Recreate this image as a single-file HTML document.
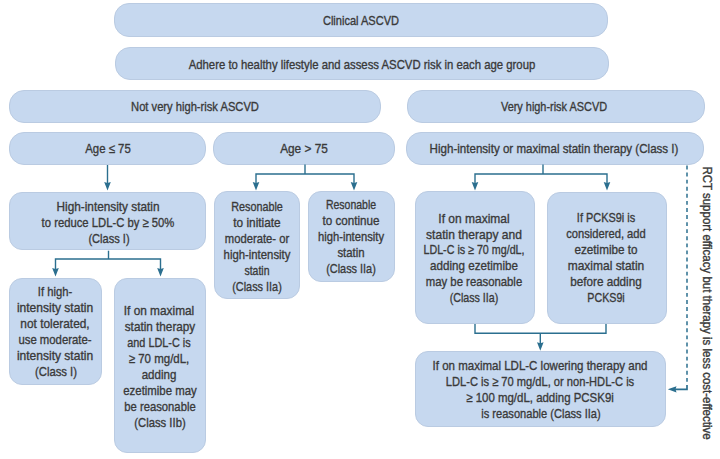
<!DOCTYPE html>
<html><head><meta charset="utf-8"><style>
html,body{margin:0;padding:0;background:#fff;}
body{width:720px;height:459px;position:relative;overflow:hidden;font-family:"Liberation Sans",sans-serif;}
.b{position:absolute;background:rgb(198,216,239);box-sizing:border-box;border:1px solid rgb(186,203,226);}
.t{position:absolute;width:800px;text-align:center;font-size:13px;line-height:16px;height:16px;color:#3a3a3a;transform-origin:50% 50%;white-space:nowrap;-webkit-text-stroke:0.35px #3a3a3a;}
svg{position:absolute;left:0;top:0;}
</style></head><body>

<div class="b" style="left:113.8px;top:3.3px;width:494.0px;height:34.2px;border-radius:15.0px"></div>
<div class="b" style="left:115.0px;top:47.0px;width:494.0px;height:33.0px;border-radius:15.0px"></div>
<div class="b" style="left:9.3px;top:89.5px;width:371.3px;height:33.1px;border-radius:15.0px"></div>
<div class="b" style="left:406.6px;top:89.5px;width:298.0px;height:33.1px;border-radius:15.0px"></div>
<div class="b" style="left:9.3px;top:131.5px;width:197.2px;height:33.7px;border-radius:15.0px"></div>
<div class="b" style="left:213.0px;top:131.5px;width:182.0px;height:33.7px;border-radius:15.0px"></div>
<div class="b" style="left:406.1px;top:132.0px;width:297.7px;height:32.7px;border-radius:15.0px"></div>
<div class="b" style="left:9.3px;top:191.8px;width:197.1px;height:58.2px;border-radius:13.0px"></div>
<div class="b" style="left:214.2px;top:191.3px;width:86.2px;height:107.7px;border-radius:13.0px"></div>
<div class="b" style="left:308.0px;top:191.3px;width:86.8px;height:90.7px;border-radius:13.0px"></div>
<div class="b" style="left:9.2px;top:277.7px;width:93.2px;height:107.3px;border-radius:13.0px"></div>
<div class="b" style="left:114.0px;top:277.7px;width:92.2px;height:175.3px;border-radius:13.0px"></div>
<div class="b" style="left:414.7px;top:191.3px;width:120.1px;height:132.9px;border-radius:13.0px"></div>
<div class="b" style="left:547.4px;top:191.5px;width:119.2px;height:132.7px;border-radius:13.0px"></div>
<div class="b" style="left:414.7px;top:351.3px;width:251.6px;height:75.5px;border-radius:13.0px"></div>
<div class="t" style="left:-39.3px;top:13.40px;transform:scaleX(0.850)">Clinical ASCVD</div>
<div class="t" style="left:-38.3px;top:57.10px;transform:scaleX(0.872)">Adhere to healthy lifestyle and assess ASCVD risk in each age group</div>
<div class="t" style="left:-204.8px;top:99.10px;transform:scaleX(0.859)">Not very high-risk ASCVD</div>
<div class="t" style="left:154.1px;top:99.10px;transform:scaleX(0.839)">Very high-risk ASCVD</div>
<div class="t" style="left:-292.1px;top:141.10px;transform:scaleX(0.876)">Age ≤ 75</div>
<div class="t" style="left:-95.7px;top:141.30px;transform:scaleX(0.911)">Age &gt; 75</div>
<div class="t" style="left:154.2px;top:141.30px;transform:scaleX(0.890)">High-intensity or maximal statin therapy (Class I)</div>
<div class="t" style="left:-292.4px;top:199.00px;transform:scaleX(0.908)">High-intensity statin</div>
<div class="t" style="left:-292.1px;top:215.00px;transform:scaleX(0.867)">to reduce LDL-C by ≥ 50%</div>
<div class="t" style="left:-291.4px;top:231.00px;transform:scaleX(0.851)">(Class I)</div>
<div class="t" style="left:-142.8px;top:198.50px;transform:scaleX(0.830)">Resonable</div>
<div class="t" style="left:-143.2px;top:214.50px;transform:scaleX(0.910)">to initiate</div>
<div class="t" style="left:-142.8px;top:230.50px;transform:scaleX(0.864)">moderate- or</div>
<div class="t" style="left:-143.1px;top:246.50px;transform:scaleX(0.872)">high-intensity</div>
<div class="t" style="left:-143.5px;top:262.50px;transform:scaleX(0.805)">statin</div>
<div class="t" style="left:-143.1px;top:278.50px;transform:scaleX(0.838)">(Class IIa)</div>
<div class="t" style="left:-49.2px;top:197.20px;transform:scaleX(0.807)">Resonable</div>
<div class="t" style="left:-48.9px;top:213.10px;transform:scaleX(0.897)">to continue</div>
<div class="t" style="left:-49.1px;top:229.00px;transform:scaleX(0.862)">high-intensity</div>
<div class="t" style="left:-49.0px;top:244.90px;transform:scaleX(0.875)">statin</div>
<div class="t" style="left:-49.1px;top:260.80px;transform:scaleX(0.838)">(Class IIa)</div>
<div class="t" style="left:-345.0px;top:284.40px;transform:scaleX(0.862)">If high-</div>
<div class="t" style="left:-344.6px;top:300.40px;transform:scaleX(0.925)">intensity statin</div>
<div class="t" style="left:-344.8px;top:316.40px;transform:scaleX(0.913)">not tolerated,</div>
<div class="t" style="left:-344.8px;top:332.40px;transform:scaleX(0.872)">use moderate-</div>
<div class="t" style="left:-344.6px;top:348.40px;transform:scaleX(0.925)">intensity statin</div>
<div class="t" style="left:-344.4px;top:364.40px;transform:scaleX(0.869)">(Class I)</div>
<div class="t" style="left:-240.6px;top:302.50px;transform:scaleX(0.912)">If on maximal</div>
<div class="t" style="left:-240.5px;top:318.50px;transform:scaleX(0.903)">statin therapy</div>
<div class="t" style="left:-240.6px;top:334.50px;transform:scaleX(0.836)">and LDL-C is</div>
<div class="t" style="left:-240.8px;top:350.50px;transform:scaleX(0.884)">≥ 70 mg/dL,</div>
<div class="t" style="left:-240.6px;top:366.50px;transform:scaleX(0.888)">adding</div>
<div class="t" style="left:-240.1px;top:382.50px;transform:scaleX(0.877)">ezetimibe may</div>
<div class="t" style="left:-240.1px;top:398.50px;transform:scaleX(0.865)">be reasonable</div>
<div class="t" style="left:-240.3px;top:414.50px;transform:scaleX(0.866)">(Class IIb)</div>
<div class="t" style="left:73.9px;top:210.60px;transform:scaleX(0.923)">If on maximal</div>
<div class="t" style="left:73.9px;top:226.50px;transform:scaleX(0.927)">statin therapy and</div>
<div class="t" style="left:74.1px;top:242.40px;transform:scaleX(0.823)">LDL-C is ≥ 70 mg/dL,</div>
<div class="t" style="left:73.9px;top:258.30px;transform:scaleX(0.893)">adding ezetimibe</div>
<div class="t" style="left:74.0px;top:274.20px;transform:scaleX(0.872)">may be reasonable</div>
<div class="t" style="left:73.6px;top:290.10px;transform:scaleX(0.820)">(Class IIa)</div>
<div class="t" style="left:206.4px;top:210.20px;transform:scaleX(0.840)">If PCKS9i is</div>
<div class="t" style="left:206.2px;top:226.10px;transform:scaleX(0.859)">considered, add</div>
<div class="t" style="left:206.4px;top:242.00px;transform:scaleX(0.899)">ezetimibe to</div>
<div class="t" style="left:206.2px;top:257.90px;transform:scaleX(0.921)">maximal statin</div>
<div class="t" style="left:206.4px;top:273.80px;transform:scaleX(0.898)">before adding</div>
<div class="t" style="left:206.4px;top:289.70px;transform:scaleX(0.823)">PCKS9i</div>
<div class="t" style="left:139.7px;top:357.90px;transform:scaleX(0.885)">If on maximal LDL-C lowering therapy and</div>
<div class="t" style="left:139.6px;top:373.90px;transform:scaleX(0.855)">LDL-C is ≥ 70 mg/dL, or non-HDL-C is</div>
<div class="t" style="left:140.0px;top:389.90px;transform:scaleX(0.881)">≥ 100 mg/dL, adding PCSK9i</div>
<div class="t" style="left:140.6px;top:405.90px;transform:scaleX(0.852)">is reasonable (Class IIa)</div>
<svg width="720" height="459" viewBox="0 0 720 459">
<polyline points="107.5,165.0 107.5,185.0" fill="none" stroke="#2b6f8f" stroke-width="1.4"/>
<path d="M104.2 182.0 L107.5 190.5 L110.8 182.0 L107.5 183.0 Z" fill="#2b6f8f"/>
<polyline points="305.0,164.5 305.0,174.0" fill="none" stroke="#2b6f8f" stroke-width="1.4"/>
<polyline points="256.0,184.0 256.0,174.0 354.0,174.0 354.0,184.0" fill="none" stroke="#2b6f8f" stroke-width="1.4"/>
<path d="M252.7 182.0 L256.0 190.5 L259.3 182.0 L256.0 183.0 Z" fill="#2b6f8f"/>
<path d="M350.7 182.0 L354.0 190.5 L357.3 182.0 L354.0 183.0 Z" fill="#2b6f8f"/>
<polyline points="108.5,250.7 108.5,259.0" fill="none" stroke="#2b6f8f" stroke-width="1.4"/>
<polyline points="55.5,270.0 55.5,259.0 160.5,259.0 160.5,270.0" fill="none" stroke="#2b6f8f" stroke-width="1.4"/>
<path d="M52.2 268.0 L55.5 276.5 L58.8 268.0 L55.5 269.0 Z" fill="#2b6f8f"/>
<path d="M157.2 268.0 L160.5 276.5 L163.8 268.0 L160.5 269.0 Z" fill="#2b6f8f"/>
<polyline points="543.0,164.5 543.0,174.0" fill="none" stroke="#2b6f8f" stroke-width="1.4"/>
<polyline points="475.0,184.0 475.0,174.0 607.0,174.0 607.0,184.0" fill="none" stroke="#2b6f8f" stroke-width="1.4"/>
<path d="M471.7 182.0 L475.0 190.5 L478.3 182.0 L475.0 183.0 Z" fill="#2b6f8f"/>
<path d="M603.7 182.0 L607.0 190.5 L610.3 182.0 L607.0 183.0 Z" fill="#2b6f8f"/>
<polyline points="475.0,324.0 475.0,333.3 606.0,333.3 606.0,324.0" fill="none" stroke="#2b6f8f" stroke-width="1.4"/>
<polyline points="540.3,333.3 540.3,345.0" fill="none" stroke="#2b6f8f" stroke-width="1.4"/>
<path d="M537.0 342.3 L540.3 350.8 L543.6 342.3 L540.3 343.3 Z" fill="#2b6f8f"/>
<line x1="687" y1="165.5" x2="687" y2="385" stroke="#2b6f8f" stroke-width="1.5" stroke-dasharray="3.9 3.18"/>
<polyline points="687,385 687,389.3 675,389.3" fill="none" stroke="#2b6f8f" stroke-width="1.7"/>
<path d="M667.8 389.3 L676.5 386.2 L675.5 389.3 L676.5 392.4 Z" fill="#2b6f8f"/>
</svg>
<div style="position:absolute;left:507.2px;top:294.5px;width:400px;height:16px;line-height:16px;font-size:12px;color:#3a3a3a;text-align:center;white-space:nowrap;-webkit-text-stroke:0.35px #3a3a3a;transform:rotate(90deg) scaleX(0.957);transform-origin:50% 50%">RCT support efficacy but therapy is less cost-effective</div>
</body></html>
